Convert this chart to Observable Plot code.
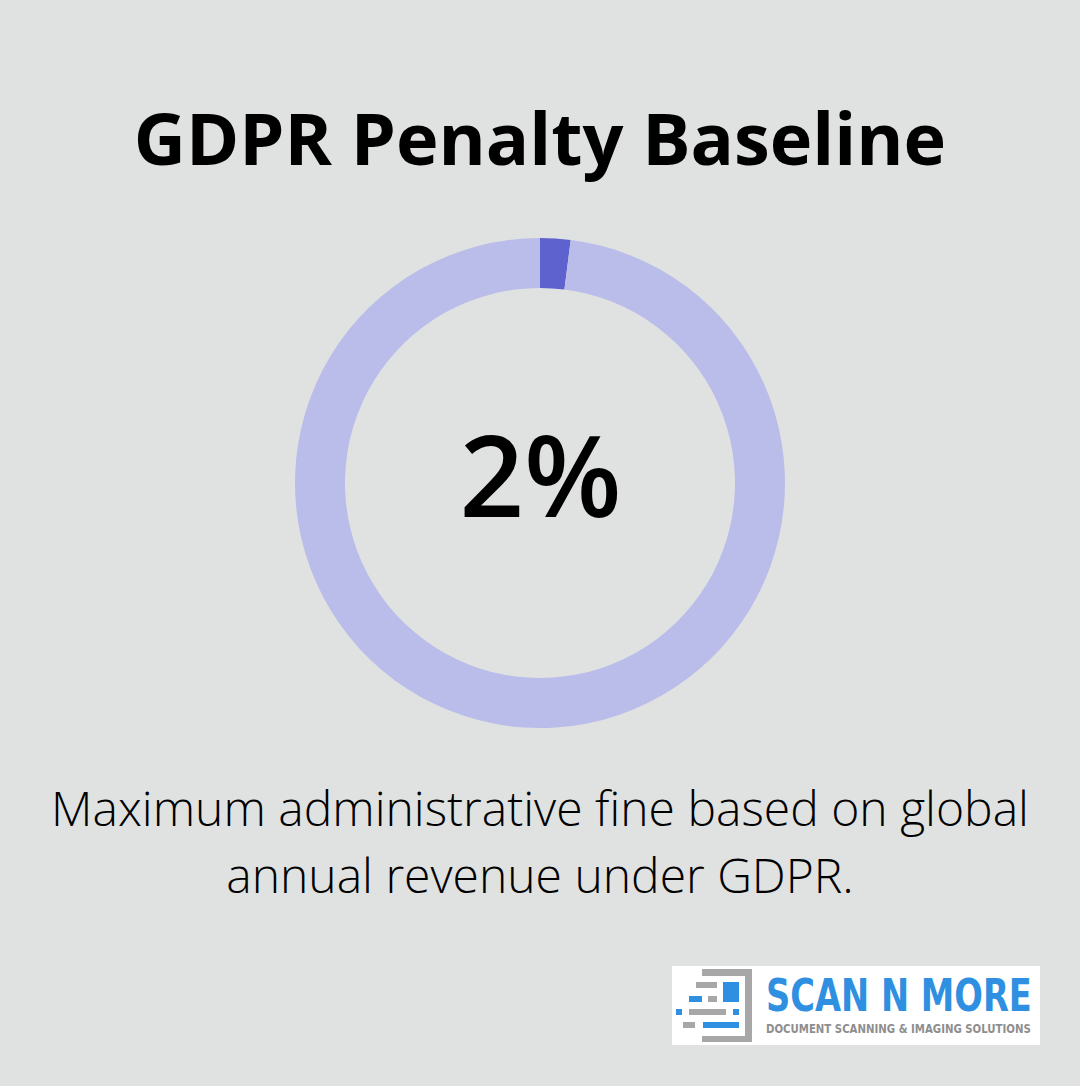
<!DOCTYPE html>
<html>
<head>
<meta charset="utf-8">
<script src="https://cdn.jsdelivr.net/npm/d3@7"></script>
<script src="https://cdn.jsdelivr.net/npm/@observablehq/plot@0.6"></script>
<style>
  html, body { margin: 0; padding: 0; }
  body { width: 1080px; height: 1086px; background: #e0e2e1; position: relative; overflow: hidden; font-family: "Open Sans", sans-serif; }
  #title { position: absolute; left: 0; width: 1080px; top: 87px; text-align: center; font-weight: 700; font-size: 72px; line-height: 100px; color: #000; }
  #chart { position: absolute; left: 290px; top: 233px; }
  #caption { position: absolute; left: 0; width: 1080px; top: 774px; text-align: center; font-weight: 300; font-size: 48px; line-height: 67px; color: #000; }
  #logo { position: absolute; left: 672px; top: 966px; }
</style>
</head>
<body>
<div id="title">GDPR Penalty Baseline</div>
<div id="chart"></div>
<div id="caption">Maximum administrative fine based on global<br>annual revenue under GDPR.</div>
<div id="logo">
<svg width="368" height="79" viewBox="0 0 368 79" xmlns="http://www.w3.org/2000/svg">
  <rect x="0" y="0" width="368" height="79" fill="#ffffff"/>
  <path d="M30 3 H80 V76 H30 V70 H73 V10 H30 Z" fill="#a7a7a7"/>
  <rect x="24" y="16" width="21" height="6" fill="#a7a7a7"/>
  <rect x="51" y="16" width="16" height="20" fill="#2f8fe0"/>
  <rect x="17" y="30" width="13" height="6" fill="#2f8fe0"/>
  <rect x="36" y="30" width="9" height="6" fill="#a7a7a7"/>
  <rect x="4" y="43" width="6" height="6" fill="#2f8fe0"/>
  <rect x="17" y="43" width="37" height="6" fill="#a7a7a7"/>
  <rect x="61" y="43" width="6" height="6" fill="#2f8fe0"/>
  <rect x="11" y="56" width="12" height="6" fill="#a7a7a7"/>
  <rect x="31" y="56" width="36" height="6" fill="#2f8fe0"/>
  <text class="fit" data-x="94" data-y="45" data-w="266" font-family="'Liberation Sans Narrow', 'DejaVu Sans Condensed', sans-serif" font-weight="700" font-size="45" fill="#2f8fe0">SCAN N MORE</text>
  <text class="fit" data-x="94" data-y="67" data-w="265" font-family="'Liberation Sans Narrow', 'DejaVu Sans Condensed', sans-serif" font-weight="700" font-size="13" fill="#8e8e8e">DOCUMENT SCANNING &amp; IMAGING SOLUTIONS</text>
</svg>
</div>
<script>
// Data
const categories = ["Maximum fine (share of global annual revenue)", "Remaining revenue"];
const values = [2, 98];
const centerLabel = ["2%"];
const sliceColors = ["#5d62cf", "#babdea"];

const data = categories.map((category, i) => ({category, value: values[i]}));
const colorOf = new Map(categories.map((c, i) => [c, sliceColors[i]]));

function donutMark(rows, {outer, inner}) {
  return (index, scales) => {
    const cx = scales.x(0), cy = scales.y(0);
    const r1 = scales.x(outer) - cx;
    const r0 = scales.x(inner) - cx;
    const arcs = d3.pie().sort(null).value(d => d.value)(rows);
    const arc = d3.arc().innerRadius(r0).outerRadius(r1);
    const g = d3.create("svg:g").attr("transform", `translate(${cx},${cy})`);
    g.selectAll("path").data(arcs).join("path")
      .attr("d", arc)
      .attr("fill", d => colorOf.get(d.data.category));
    return g.node();
  };
}

const chart = Plot.plot({
  width: 500,
  height: 500,
  margin: 0,
  x: {domain: [-250, 250], axis: null},
  y: {domain: [-250, 250], axis: null},
  style: {background: "transparent", overflow: "visible"},
  marks: [
    donutMark(data, {outer: 245, inner: 195}),
    Plot.text(centerLabel, {
      x: () => 0, y: () => 0, text: d => d,
      fontSize: 113, fontWeight: 600, fontFamily: "Open Sans", fill: "#000",
      dy: -3
    })
  ]
});
document.getElementById("chart").appendChild(chart);

// Fit logo texts horizontally to their boxes
document.querySelectorAll("#logo text.fit").forEach(t => {
  const w = t.getComputedTextLength();
  const target = +t.dataset.w;
  const sx = w > 0 ? target / w : 1;
  t.setAttribute("transform", `translate(${t.dataset.x},${t.dataset.y}) scale(${sx},1)`);
});
</script>
</body>
</html>
